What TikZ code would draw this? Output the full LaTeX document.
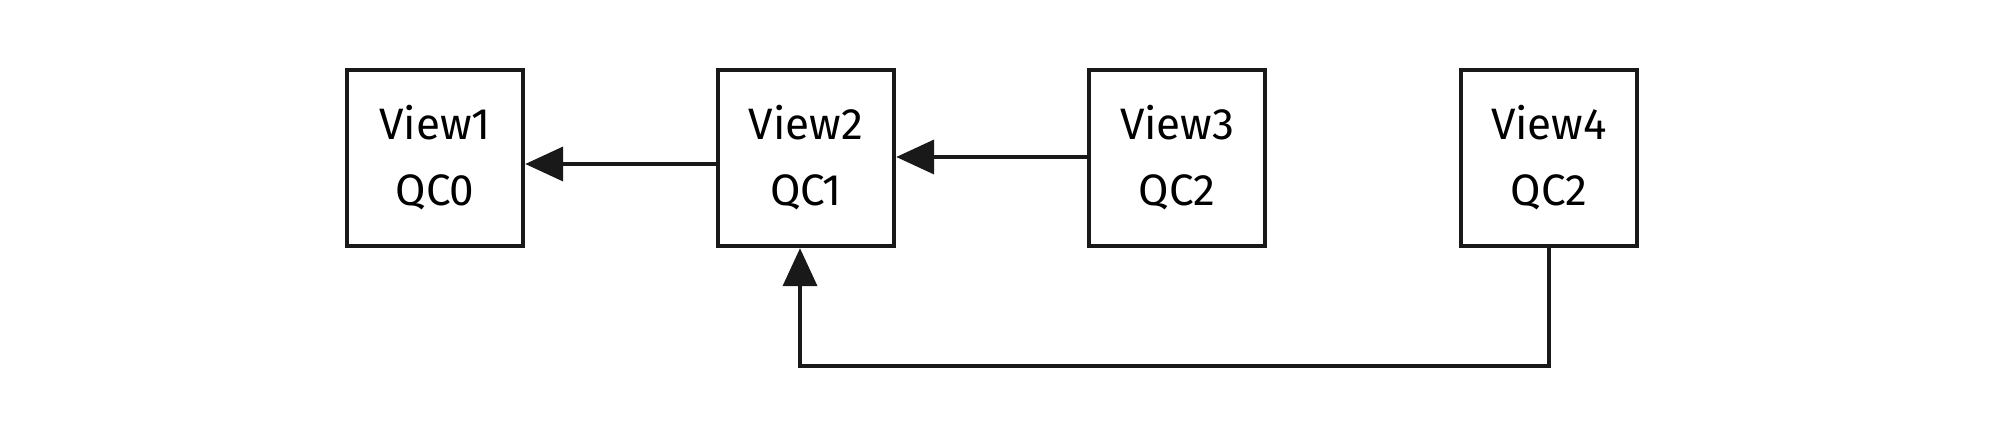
\documentclass[tikz,border=0pt]{standalone}
\usepackage{fontspec}
\setmainfont{Fira Sans}
\usetikzlibrary{arrows.meta}
\begin{document}
\begin{tikzpicture}[x=0.5pt,y=-0.5pt,
  viewbox/.style={draw=black!90,line width=2.2pt,minimum width=88pt,minimum height=88pt,
    inner sep=0pt,align=center,font=\fontsize{22}{33}\selectfont},
  conn/.style={draw=black!90,line width=2pt,-{Triangle[length=19pt,width=17pt]}}]
\useasboundingbox (0,0) rectangle (2000,432);
\node[viewbox] (v1) at (435,158) {View1\\QC0};
\node[viewbox] (v2) at (806,158) {View2\\QC1};
\node[viewbox] (v3) at (1177,158) {View3\\QC2};
\node[viewbox] (v4) at (1549,158) {View4\\QC2};
\draw[conn] (v2.west |- 0,164) -- (v1.east |- 0,164);
\draw[conn] (v3.west |- 0,157) -- (v2.east |- 0,157);
\coordinate (c1) at (1549,366);
\coordinate (c2) at (800,366);
\draw[conn] (v4.south) -- (c1) -- (c2) -- (v2.south -| c2);
\end{tikzpicture}
\end{document}
